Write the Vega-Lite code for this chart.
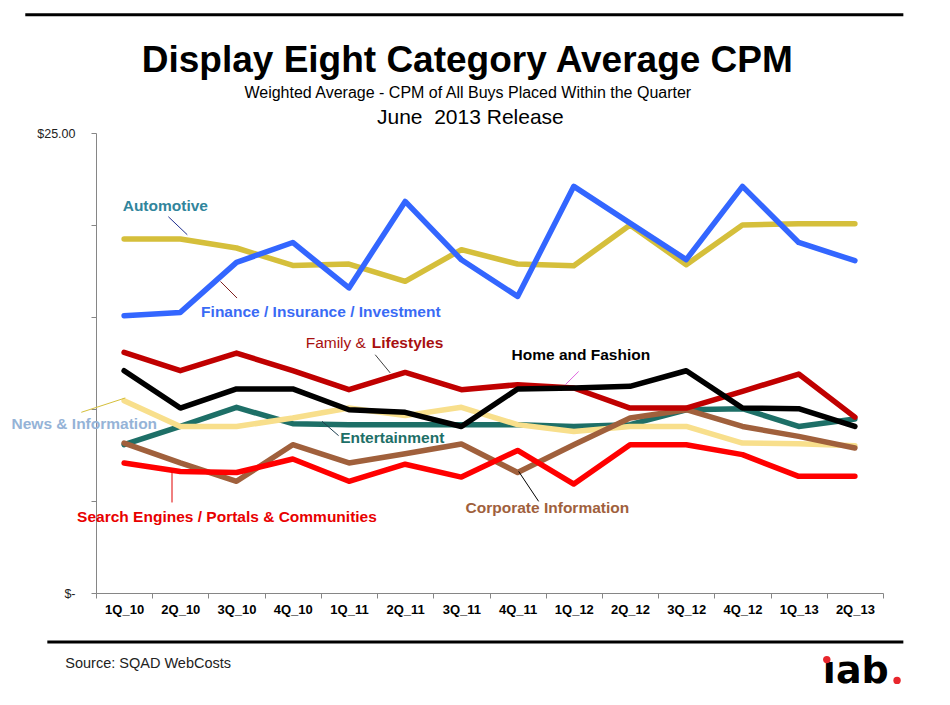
{
  "$schema": "https://vega.github.io/schema/vega-lite/v6.json",
  "width": 787,
  "height": 460,
  "autosize": "none",
  "padding": {"left": 96, "top": 133, "right": 67, "bottom": 112},
  "background": "white",
  "config": {"view": {"stroke": null}, "font": "Liberation Sans", "axis": {"grid": false}},
  "datasets": {
    "cpm": [
      {"s":"Automotive","q":"1Q_10","v":19.24},{"s":"Automotive","q":"2Q_10","v":19.24},{"s":"Automotive","q":"3Q_10","v":18.75},{"s":"Automotive","q":"4Q_10","v":17.8},{"s":"Automotive","q":"1Q_11","v":17.88},{"s":"Automotive","q":"2Q_11","v":16.94},{"s":"Automotive","q":"3Q_11","v":18.66},{"s":"Automotive","q":"4Q_11","v":17.88},{"s":"Automotive","q":"1Q_12","v":17.79},{"s":"Automotive","q":"2Q_12","v":20.0},{"s":"Automotive","q":"3Q_12","v":17.84},{"s":"Automotive","q":"4Q_12","v":20.0},{"s":"Automotive","q":"1Q_13","v":20.07},{"s":"Automotive","q":"2Q_13","v":20.07},
      {"s":"Finance / Insurance / Investment","q":"1Q_10","v":15.07},{"s":"Finance / Insurance / Investment","q":"2Q_10","v":15.25},{"s":"Finance / Insurance / Investment","q":"3Q_10","v":17.97},{"s":"Finance / Insurance / Investment","q":"4Q_10","v":19.05},{"s":"Finance / Insurance / Investment","q":"1Q_11","v":16.58},{"s":"Finance / Insurance / Investment","q":"2Q_11","v":21.28},{"s":"Finance / Insurance / Investment","q":"3Q_11","v":18.11},{"s":"Finance / Insurance / Investment","q":"4Q_11","v":16.12},{"s":"Finance / Insurance / Investment","q":"1Q_12","v":22.1},{"s":"Finance / Insurance / Investment","q":"2Q_12","v":20.1},{"s":"Finance / Insurance / Investment","q":"3Q_12","v":18.12},{"s":"Finance / Insurance / Investment","q":"4Q_12","v":22.1},{"s":"Finance / Insurance / Investment","q":"1Q_13","v":19.05},{"s":"Finance / Insurance / Investment","q":"2Q_13","v":18.06},
      {"s":"Entertainment","q":"1Q_10","v":8.06},{"s":"Entertainment","q":"2Q_10","v":9.05},{"s":"Entertainment","q":"3Q_10","v":10.09},{"s":"Entertainment","q":"4Q_10","v":9.2},{"s":"Entertainment","q":"1Q_11","v":9.15},{"s":"Entertainment","q":"2Q_11","v":9.15},{"s":"Entertainment","q":"3Q_11","v":9.15},{"s":"Entertainment","q":"4Q_11","v":9.15},{"s":"Entertainment","q":"1Q_12","v":9.05},{"s":"Entertainment","q":"2Q_12","v":9.15},{"s":"Entertainment","q":"3Q_12","v":9.96},{"s":"Entertainment","q":"4Q_12","v":10.02},{"s":"Entertainment","q":"1Q_13","v":9.05},{"s":"Entertainment","q":"2Q_13","v":9.46},
      {"s":"News & Information","q":"1Q_10","v":10.45},{"s":"News & Information","q":"2Q_10","v":9.05},{"s":"News & Information","q":"3Q_10","v":9.05},{"s":"News & Information","q":"4Q_10","v":9.51},{"s":"News & Information","q":"1Q_11","v":10.05},{"s":"News & Information","q":"2Q_11","v":9.64},{"s":"News & Information","q":"3Q_11","v":10.09},{"s":"News & Information","q":"4Q_11","v":9.15},{"s":"News & Information","q":"1Q_12","v":8.78},{"s":"News & Information","q":"2Q_12","v":9.05},{"s":"News & Information","q":"3Q_12","v":9.05},{"s":"News & Information","q":"4Q_12","v":8.15},{"s":"News & Information","q":"1Q_13","v":8.11},{"s":"News & Information","q":"2Q_13","v":8.0},
      {"s":"Corporate Information","q":"1Q_10","v":8.15},{"s":"Corporate Information","q":"2Q_10","v":7.07},{"s":"Corporate Information","q":"3Q_10","v":6.07},{"s":"Corporate Information","q":"4Q_10","v":8.06},{"s":"Corporate Information","q":"1Q_11","v":7.07},{"s":"Corporate Information","q":"2Q_11","v":7.57},{"s":"Corporate Information","q":"3Q_11","v":8.1},{"s":"Corporate Information","q":"4Q_11","v":6.55},{"s":"Corporate Information","q":"1Q_12","v":8.06},{"s":"Corporate Information","q":"2Q_12","v":9.51},{"s":"Corporate Information","q":"3Q_12","v":9.96},{"s":"Corporate Information","q":"4Q_12","v":9.05},{"s":"Corporate Information","q":"1Q_13","v":8.51},{"s":"Corporate Information","q":"2Q_13","v":7.88},
      {"s":"Search Engines / Portals & Communities","q":"1Q_10","v":7.07},{"s":"Search Engines / Portals & Communities","q":"2Q_10","v":6.6},{"s":"Search Engines / Portals & Communities","q":"3Q_10","v":6.55},{"s":"Search Engines / Portals & Communities","q":"4Q_10","v":7.28},{"s":"Search Engines / Portals & Communities","q":"1Q_11","v":6.07},{"s":"Search Engines / Portals & Communities","q":"2Q_11","v":7.0},{"s":"Search Engines / Portals & Communities","q":"3Q_11","v":6.3},{"s":"Search Engines / Portals & Communities","q":"4Q_11","v":7.75},{"s":"Search Engines / Portals & Communities","q":"1Q_12","v":5.92},{"s":"Search Engines / Portals & Communities","q":"2Q_12","v":8.06},{"s":"Search Engines / Portals & Communities","q":"3Q_12","v":8.06},{"s":"Search Engines / Portals & Communities","q":"4Q_12","v":7.52},{"s":"Search Engines / Portals & Communities","q":"1Q_13","v":6.34},{"s":"Search Engines / Portals & Communities","q":"2Q_13","v":6.34},
      {"s":"Family & Lifestyles","q":"1Q_10","v":13.08},{"s":"Family & Lifestyles","q":"2Q_10","v":12.08},{"s":"Family & Lifestyles","q":"3Q_10","v":13.04},{"s":"Family & Lifestyles","q":"4Q_10","v":12.08},{"s":"Family & Lifestyles","q":"1Q_11","v":11.05},{"s":"Family & Lifestyles","q":"2Q_11","v":11.99},{"s":"Family & Lifestyles","q":"3Q_11","v":11.05},{"s":"Family & Lifestyles","q":"4Q_11","v":11.32},{"s":"Family & Lifestyles","q":"1Q_12","v":11.14},{"s":"Family & Lifestyles","q":"2Q_12","v":10.05},{"s":"Family & Lifestyles","q":"3Q_12","v":10.05},{"s":"Family & Lifestyles","q":"4Q_12","v":10.96},{"s":"Family & Lifestyles","q":"1Q_13","v":11.9},{"s":"Family & Lifestyles","q":"2Q_13","v":9.56},
      {"s":"Home and Fashion","q":"1Q_10","v":12.08},{"s":"Home and Fashion","q":"2Q_10","v":10.05},{"s":"Home and Fashion","q":"3Q_10","v":11.09},{"s":"Home and Fashion","q":"4Q_10","v":11.09},{"s":"Home and Fashion","q":"1Q_11","v":9.96},{"s":"Home and Fashion","q":"2Q_11","v":9.82},{"s":"Home and Fashion","q":"3Q_11","v":9.05},{"s":"Home and Fashion","q":"4Q_11","v":11.09},{"s":"Home and Fashion","q":"1Q_12","v":11.14},{"s":"Home and Fashion","q":"2Q_12","v":11.23},{"s":"Home and Fashion","q":"3Q_12","v":12.08},{"s":"Home and Fashion","q":"4Q_12","v":10.05},{"s":"Home and Fashion","q":"1Q_13","v":10.02},{"s":"Home and Fashion","q":"2Q_13","v":9.05}
    ],
    "labels": [
      {"t": "Automotive", "i": 0.733, "v": 21.05},
      {"t": "Finance / Insurance / Investment", "i": 3.5, "v": 15.27},
      {"t": "Lifestyles", "i": 5.042, "v": 13.59},
      {"t": "Home and Fashion", "i": 8.125, "v": 12.95},
      {"t": "News & Information", "i": -0.708, "v": 9.2},
      {"t": "Entertainment", "i": 4.77, "v": 8.42},
      {"t": "Corporate Information", "i": 7.53, "v": 4.62},
      {"t": "Search Engines / Portals & Communities", "i": 1.83, "v": 4.13}
    ],
    "leaders": [
      {"s": "Automotive", "i": 0.787, "v": 20.45, "i2": 1.124, "v2": 19.47},
      {"s": "Finance", "i": 1.715, "v": 16.93, "i2": 2.009, "v2": 16.03},
      {"s": "Family", "i": 4.467, "v": 12.95, "i2": 4.734, "v2": 11.96},
      {"s": "Home", "i": 8.086, "v": 12.04, "i2": 7.849, "v2": 11.32},
      {"s": "News", "i": -0.761, "v": 9.82, "i2": 0.021, "v2": 10.6},
      {"s": "Entertainment", "i": 3.521, "v": 9.33, "i2": 3.816, "v2": 8.55},
      {"s": "Corporate", "i": 7.018, "v": 6.61, "i2": 7.374, "v2": 4.98},
      {"s": "Search", "i": 0.852, "v": 6.52, "i2": 0.852, "v2": 4.92}
    ]
  },
  "layer": [
    {
      "data": {"name": "cpm"},
      "mark": {"type": "line", "strokeWidth": 5.5, "strokeJoin": "round", "strokeCap": "round"},
      "encoding": {
        "x": {
          "field": "q", "type": "ordinal",
          "sort": ["1Q_10","2Q_10","3Q_10","4Q_10","1Q_11","2Q_11","3Q_11","4Q_11","1Q_12","2Q_12","3Q_12","4Q_12","1Q_13","2Q_13"],
          "scale": {"type": "band", "paddingInner": 0, "paddingOuter": 0},
          "axis": {"title": null, "tickBand": "extent", "domainColor": "#868686", "tickColor": "#868686", "tickSize": 5, "labelFontWeight": "bold", "labelFontSize": 13, "labelColor": "#000000", "labelPadding": 5, "labelAngle": 0}
        },
        "y": {
          "field": "v", "type": "quantitative",
          "scale": {"domain": [0, 25], "nice": false, "zero": false},
          "axis": {"title": null, "values": [0, 5, 10, 15, 20, 25], "labelExpr": "datum.value == 25 ? '$25.00' : (datum.value == 0 ? '$-\u00a0\u00a0' : '')", "domainColor": "#868686", "tickColor": "#868686", "tickSize": 5, "labelFontSize": 12.5, "labelColor": "#222222", "labelPadding": 16}
        },
        "color": {
          "field": "s", "type": "nominal", "legend": null,
          "scale": {
            "domain": ["Automotive","Finance / Insurance / Investment","Entertainment","News & Information","Corporate Information","Search Engines / Portals & Communities","Family & Lifestyles","Home and Fashion"],
            "range": ["#D5BF3B","#3366FF","#1D6F67","#F8DF8C","#A0603C","#FF0000","#C00000","#000000"]
          }
        }
      }
    },
    {
      "layer": [
        {
          "data": {"name": "labels"},
          "mark": {"type": "text", "fontWeight": "bold", "fontSize": 15.5, "align": "center", "baseline": "middle"},
          "encoding": {
            "x": {"field": "i", "type": "quantitative", "scale": {"domain": [-0.5, 13.5], "nice": false, "zero": false}, "axis": null},
            "y": {"field": "v", "type": "quantitative", "scale": {"domain": [0, 25], "nice": false, "zero": false}, "axis": null},
            "text": {"field": "t"},
            "fill": {
              "field": "t", "type": "nominal", "legend": null,
              "scale": {
                "domain": ["Automotive","Finance / Insurance / Investment","Lifestyles","Home and Fashion","News & Information","Entertainment","Corporate Information","Search Engines / Portals & Communities"],
                "range": ["#31859C","#3A6BF5","#A81010","#000000","#95B3D7","#1D6F67","#A0603C","#E80000"]
              }
            }
          }
        },
        {
          "data": {"values": [{}]},
          "mark": {"type": "text", "fontWeight": "normal", "fontSize": 15.5, "align": "center", "baseline": "middle", "color": "#A81010"},
          "encoding": {
            "x": {"datum": 3.766, "type": "quantitative", "scale": {"domain": [-0.5, 13.5], "nice": false, "zero": false}, "axis": null},
            "y": {"datum": 13.59, "type": "quantitative", "scale": {"domain": [0, 25], "nice": false, "zero": false}, "axis": null},
            "text": {"value": "Family &"}
          }
        },
        {
          "data": {"name": "leaders"},
          "mark": {"type": "rule", "strokeWidth": 1},
          "encoding": {
            "x": {"field": "i", "type": "quantitative", "scale": {"domain": [-0.5, 13.5], "nice": false, "zero": false}, "axis": null},
            "x2": {"field": "i2"},
            "y": {"field": "v", "type": "quantitative", "scale": {"domain": [0, 25], "nice": false, "zero": false}, "axis": null},
            "y2": {"field": "v2"},
            "stroke": {
              "field": "s", "type": "nominal", "legend": null,
              "scale": {
                "domain": ["Automotive","Finance","Family","Home","News","Entertainment","Corporate","Search"],
                "range": ["#1F2F8F","#7F2020","#404040","#E066E0","#D5BF3B","#1D3F4F","#000000","#E00000"]
              }
            }
          }
        },
        {
          "data": {"values": [{"i": -1.758, "i2": 13.862, "v": 31.43}, {"i": -1.366, "i2": 13.862, "v": -2.66}]},
          "mark": {"type": "rule", "strokeWidth": 3, "color": "#000000"},
          "encoding": {
            "x": {"field": "i", "type": "quantitative", "scale": {"domain": [-0.5, 13.5], "nice": false, "zero": false}, "axis": null},
            "x2": {"field": "i2"},
            "y": {"field": "v", "type": "quantitative", "scale": {"domain": [0, 25], "nice": false, "zero": false}, "axis": null}
          }
        },
        {
          "data": {"values": [{}]},
          "mark": {"type": "text", "fontWeight": "bold", "fontSize": 37, "align": "center", "baseline": "alphabetic", "color": "#000000"},
          "encoding": {
            "x": {"datum": 6.105, "type": "quantitative", "scale": {"domain": [-0.5, 13.5], "nice": false, "zero": false}, "axis": null},
            "y": {"datum": 28.29, "type": "quantitative", "scale": {"domain": [0, 25], "nice": false, "zero": false}, "axis": null},
            "text": {"value": "Display Eight Category Average CPM"}
          }
        },
        {
          "data": {"values": [{}]},
          "mark": {"type": "text", "fontSize": 16, "align": "center", "baseline": "alphabetic", "color": "#000000"},
          "encoding": {
            "x": {"datum": 6.114, "type": "quantitative", "scale": {"domain": [-0.5, 13.5], "nice": false, "zero": false}, "axis": null},
            "y": {"datum": 26.9, "type": "quantitative", "scale": {"domain": [0, 25], "nice": false, "zero": false}, "axis": null},
            "text": {"value": "Weighted Average - CPM of All Buys Placed Within the Quarter"}
          }
        },
        {
          "data": {"values": [{}]},
          "mark": {"type": "text", "fontSize": 21, "align": "center", "baseline": "alphabetic", "color": "#000000"},
          "encoding": {
            "x": {"datum": 6.16, "type": "quantitative", "scale": {"domain": [-0.5, 13.5], "nice": false, "zero": false}, "axis": null},
            "y": {"datum": 25.48, "type": "quantitative", "scale": {"domain": [0, 25], "nice": false, "zero": false}, "axis": null},
            "text": {"value": "June\u00a0 2013 Release"}
          }
        },
        {
          "data": {"values": [{}]},
          "mark": {"type": "text", "fontSize": 14.5, "align": "left", "baseline": "middle", "color": "#222222"},
          "encoding": {
            "x": {"datum": -1.046, "type": "quantitative", "scale": {"domain": [-0.5, 13.5], "nice": false, "zero": false}, "axis": null},
            "y": {"datum": -3.84, "type": "quantitative", "scale": {"domain": [0, 25], "nice": false, "zero": false}, "axis": null},
            "text": {"value": "Source: SQAD WebCosts"}
          }
        },
        {
          "data": {"values": [{}]},
          "mark": {"type": "text", "font": "DejaVu Sans", "fontWeight": "bold", "fontSize": 38, "align": "left", "baseline": "alphabetic", "color": "#000000"},
          "encoding": {
            "x": {"datum": 12.43, "type": "quantitative", "scale": {"domain": [-0.5, 13.5], "nice": false, "zero": false}, "axis": null},
            "y": {"datum": -4.89, "type": "quantitative", "scale": {"domain": [0, 25], "nice": false, "zero": false}, "axis": null},
            "text": {"value": "ıab"}
          }
        },
        {
          "data": {"values": [{"i": 12.5, "v": -3.62}, {"i": 13.75, "v": -4.75}]},
          "mark": {"type": "point", "filled": true, "size": 55, "color": "#E8262C", "opacity": 1},
          "encoding": {
            "x": {"field": "i", "type": "quantitative", "scale": {"domain": [-0.5, 13.5], "nice": false, "zero": false}, "axis": null},
            "y": {"field": "v", "type": "quantitative", "scale": {"domain": [0, 25], "nice": false, "zero": false}, "axis": null}
          }
        }
      ]
    }
  ],
  "resolve": {"scale": {"x": "independent", "y": "independent"}}
}
